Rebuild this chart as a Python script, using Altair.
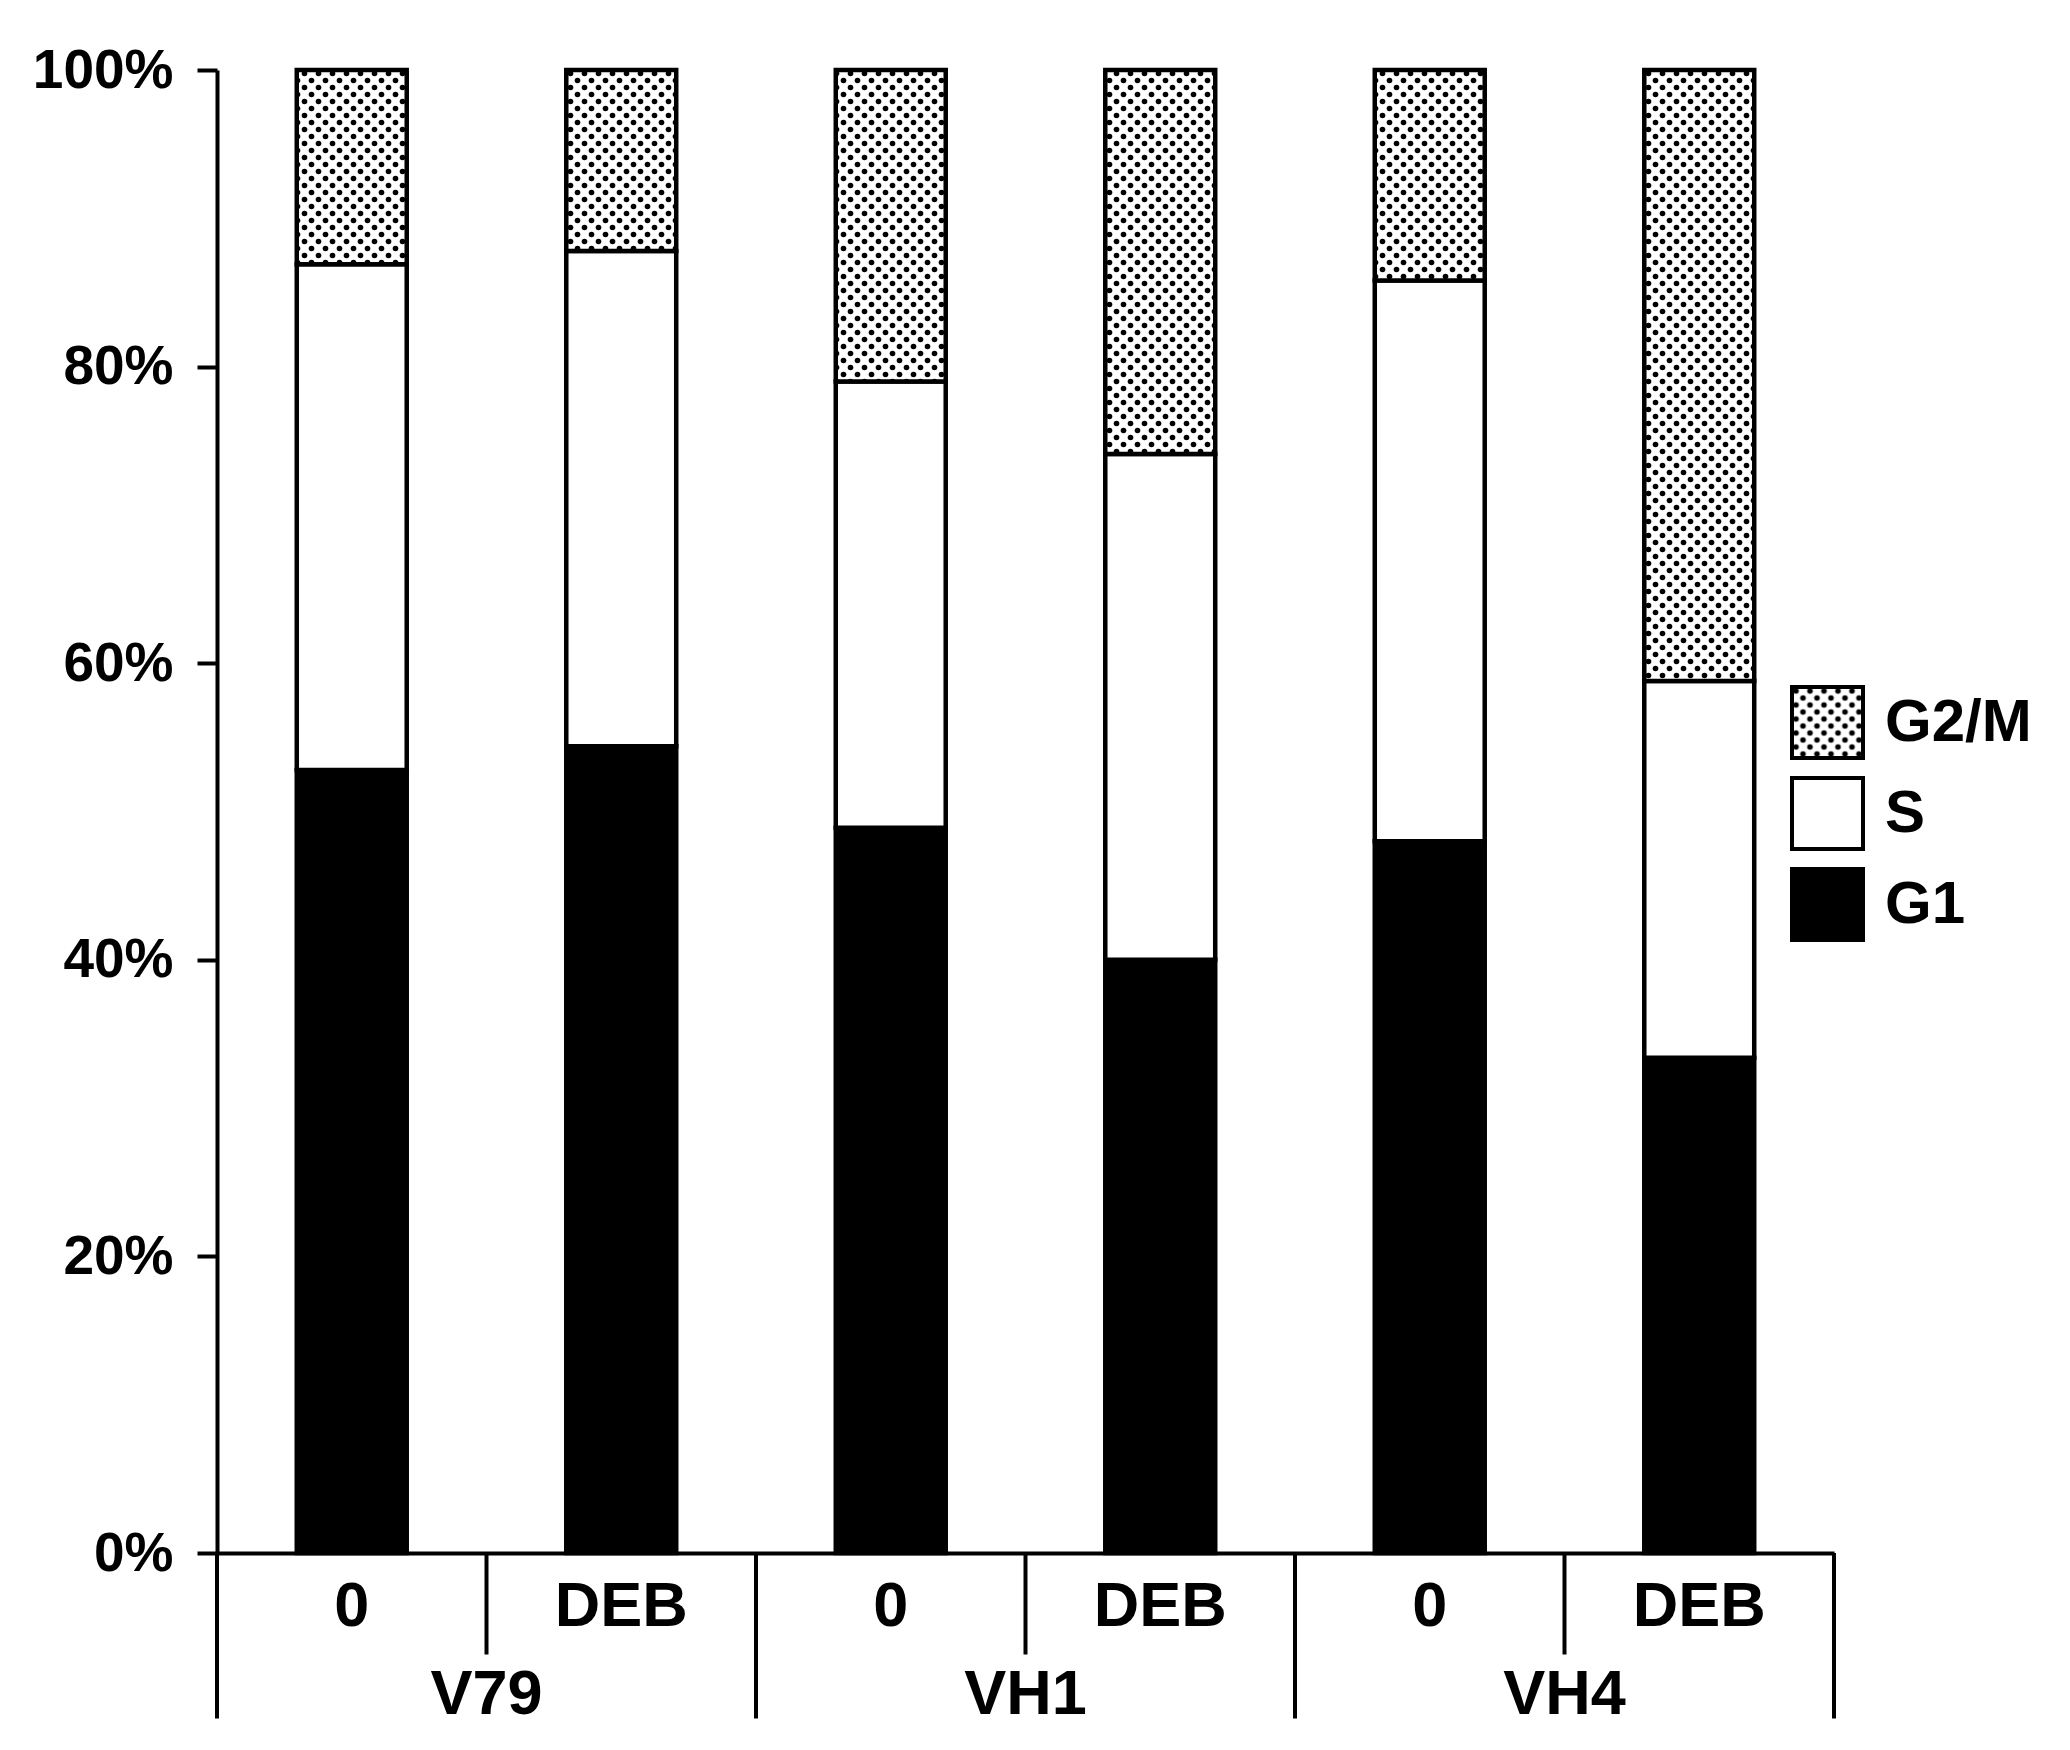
import altair as alt
import pandas as pd
import jinja2

# ---- data ----
cells = ["V79", "V79", "VH1", "VH1", "VH4", "VH4"]
treatments = ["0", "DEB", "0", "DEB", "0", "DEB"]
g1 = [52.8, 54.4, 48.9, 40.0, 48.0, 33.4]
s_phase = [34.1, 33.4, 30.1, 34.1, 37.8, 25.4]
g2m = [13.1, 12.2, 21.0, 25.9, 14.2, 41.2]
phases = ["G2/M", "S", "G1"]
phase_fills = ["url(#dots)", "white", "black"]
y_ticks = [0, 20, 40, 60, 80, 100]

conds = [f"{c}|{t}" for c, t in zip(cells, treatments)]
rows = []
for i, cond in enumerate(conds):
    for ph, val, order in (("G1", g1[i], 0), ("S", s_phase[i], 1), ("G2/M", g2m[i], 2)):
        rows.append({"cond": cond, "cell": cells[i], "treat": treatments[i],
                     "phase": ph, "value": val, "stack": order})
bars_df = pd.DataFrame(rows)

short_df = pd.DataFrame({"cond": [c for c, t in zip(conds, treatments) if t == "DEB"]})
long_df = pd.DataFrame({"cond": [c for c, t in zip(conds, treatments) if t == "0"]})
end_df = pd.DataFrame({"cond": [conds[-1]]})
group_df = pd.DataFrame({
    "cond": [c for c, t in zip(conds, treatments) if t == "0"],
    "cell": [cl for cl, t in zip(cells, treatments) if t == "0"],
})

W, H = 1617, 1483
FONT = "Liberation Sans"

x_scale = alt.Scale(domain=conds, paddingInner=0, paddingOuter=0)
x_axis = alt.Axis(
    title=None, labelExpr="split(datum.label, '|')[1]", labelAngle=0,
    labelFont=FONT, labelFontWeight="bold", labelFontSize=63, labelColor="black",
    labelBaseline="middle", labelPadding=53, ticks=False, tickSize=0,
    domainColor="black", domainWidth=4, grid=False)

bars = alt.Chart(bars_df).mark_bar(
    width=alt.RelativeBandSize(0.408), stroke="black", strokeWidth=4.5
).encode(
    x=alt.X("cond:N", scale=x_scale, axis=x_axis),
    y=alt.Y("value:Q", stack="zero", scale=alt.Scale(domain=[0, 100], nice=False),
            axis=alt.Axis(values=y_ticks, labelExpr="datum.value + '%'", title=None,
                          labelFont=FONT, labelFontWeight="bold", labelFontSize=55,
                          labelColor="black", labelPadding=24, tickSize=20, tickWidth=4,
                          tickColor="black", domainColor="black", domainWidth=4, grid=False)),
    color=alt.Color("phase:N", scale=alt.Scale(domain=phases, range=phase_fills),
                    legend=alt.Legend(title=None, orient="none", legendX=1573, legendY=615,
                                      symbolType="square", symbolSize=5041,
                                      symbolStrokeColor="black", symbolStrokeWidth=4,
                                      symbolOpacity=1, labelFont=FONT, labelFontWeight="bold",
                                      labelFontSize=60, labelColor="black", labelOffset=20,
                                      rowPadding=4, padding=0)),
    order=alt.Order("stack:Q", sort="ascending"),
)

short_rules = alt.Chart(short_df).mark_rule(color="black", strokeWidth=4).encode(
    x=alt.X("cond:N", scale=x_scale, bandPosition=0, axis=x_axis),
    y=alt.value(H), y2=alt.value(H + 101.5),
)
long_rules = alt.Chart(long_df).mark_rule(color="black", strokeWidth=4).encode(
    x=alt.X("cond:N", scale=x_scale, bandPosition=0, axis=x_axis),
    y=alt.value(H), y2=alt.value(H + 165.5),
)
end_rule = alt.Chart(end_df).mark_rule(color="black", strokeWidth=4).encode(
    x=alt.X("cond:N", scale=x_scale, bandPosition=1, axis=x_axis),
    y=alt.value(H), y2=alt.value(H + 165.5),
)
group_text = alt.Chart(group_df).mark_text(
    font=FONT, fontWeight="bold", fontSize=63, color="black", baseline="middle", align="center"
).encode(
    x=alt.X("cond:N", scale=x_scale, bandPosition=1, axis=x_axis),
    y=alt.value(H + 141.5),
    text="cell:N",
)

chart = alt.layer(bars, short_rules, long_rules, end_rule, group_text).properties(
    width=W, height=H,
    autosize=alt.AutoSizeParams(type="none"),
    padding={"left": 209, "top": 62, "right": 228, "bottom": 189},
).configure_view(strokeWidth=0)

TEMPLATE = jinja2.Template("""<!DOCTYPE html>
<html>
<head>
<meta charset="utf-8">
<script type="text/javascript" src="{{ base_url }}/vega@{{ vega_version }}"></script>
<script type="text/javascript" src="{{ base_url }}/vega-lite@{{ vegalite_version }}"></script>
<script type="text/javascript" src="{{ base_url }}/vega-embed@{{ vegaembed_version }}"></script>
</head>
<body>
<svg width="0" height="0" style="position:absolute;left:0;top:0" aria-hidden="true">
<defs>
<pattern id="dots" patternUnits="userSpaceOnUse" width="14" height="14">
<rect width="14" height="14" fill="white"/>
<circle cx="3.5" cy="3.5" r="2.8" fill="black"/>
<circle cx="10.5" cy="10.5" r="2.8" fill="black"/>
</pattern>
</defs>
</svg>
<div id="{{ output_div }}"></div>
<script>
vegaEmbed("#{{ output_div }}", {{ spec }}, {{ embed_options }}).catch(function(e){
  document.getElementById("{{ output_div }}").innerText = "Error: " + e.message;
});
</script>
</body>
</html>
""")

chart.save("out.html", embed_options={"renderer": "svg", "actions": False}, template=TEMPLATE)
